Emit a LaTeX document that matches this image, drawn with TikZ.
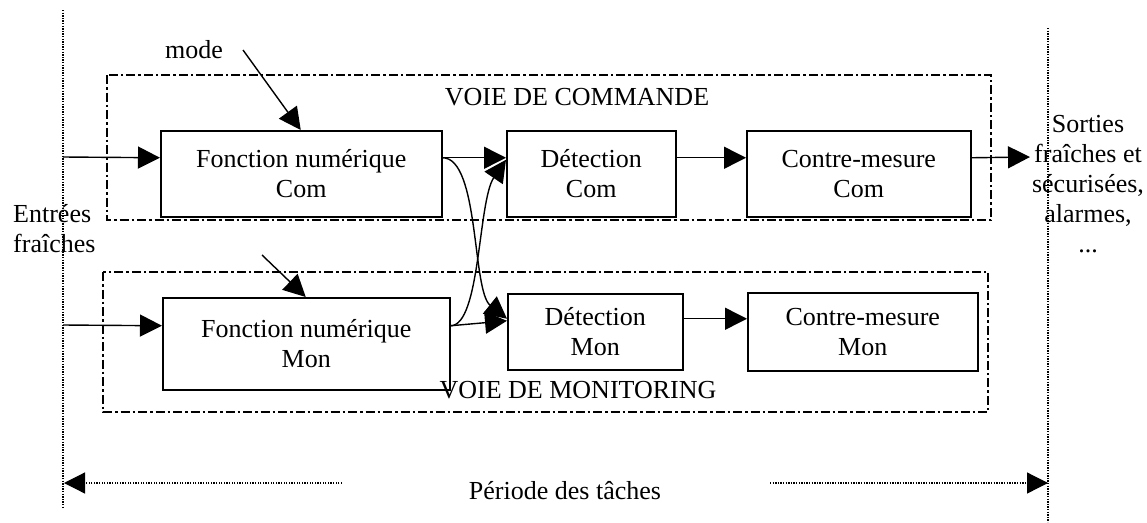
\documentclass[tikz,border=0pt]{standalone}
\usepackage{fontspec}
\setmainfont{Liberation Serif}
\usetikzlibrary{arrows.meta}
\begin{document}
\begin{tikzpicture}[x=1pt,y=-1pt,
  every node/.style={font=\fontsize{26}{30}\selectfont, inner sep=0pt, align=center},
  blk/.style={draw, line width=1.5pt, anchor=north west},
  arr/.style={line width=1.4pt, -{Triangle[length=22pt,width=22pt]}},
  voie/.style={draw, line width=1.5pt, dash pattern=on 9pt off 3pt on 2.5pt off 3pt},
  vline/.style={line width=1.2pt, dash pattern=on 1.3pt off 1.3pt},
  per/.style={line width=1.2pt, dash pattern=on 1.3pt off 1.3pt, -{Triangle[length=21pt,width=21pt]}}]
\useasboundingbox (0,0) rectangle (1147,522);

% time limits
\coordinate (vlT) at (63,10);
\coordinate (vlB) at (63,507);
\coordinate (vrT) at (1048,28);
\coordinate (vrB) at (1048,522);
\draw[vline] (vlT) -- (vlB);
\draw[vline] (vrT) -- (vrB);

% channels
\coordinate (cA) at (107,75);
\coordinate (cB) at (991,220);
\coordinate (mA) at (103,272);
\coordinate (mB) at (988,412);
\draw[voie] (cA) rectangle (cB);
\draw[voie] (mA) rectangle (mB);
\node (vc) at (577,97) {VOIE DE COMMANDE};
\node (vm) at (578,390) {VOIE DE MONITORING};

% blocks
\node[blk, minimum width=281pt, minimum height=86pt] (fc) at (160,130) {Fonction numérique\\Com};
\node[blk, minimum width=169pt, minimum height=86pt] (dc) at (506,130) {Détection\\Com};
\node[blk, minimum width=224pt, minimum height=86pt] (cc) at (746,130) {Contre-mesure\\Com};
\node[blk, minimum width=287pt, minimum height=92pt] (fm) at (162,297) {Fonction numérique\\Mon};
\node[blk, minimum width=175pt, minimum height=76pt] (dm) at (507,293) {Détection\\Mon};
\node[blk, minimum width=230pt, minimum height=78pt] (cm) at (747,292) {Contre-mesure\\Mon};

% texts
\node (mode) at (194,50) {mode};
\node[anchor=west, align=left] (in) at (13,229) {Entrées\\fraîches};
\node (out) at (1088,184) {Sorties\\fraîches et\\sécurisées,\\alarmes,\\...};
\node (per) at (565,491) {Période des tâches};

% inputs
\coordinate (inC) at (63,157);
\coordinate (inM) at (63,325);
\coordinate (modeS) at (243,50);
\coordinate (modeM) at (262,255);
\draw[arr] (inC) -- ([yshift=16pt]fc.west);
\draw[arr] (inM) -- ([yshift=18pt]fm.west);
\draw[arr] (modeS) -- ([xshift=-0.5pt]fc.north);
\draw[arr] (modeM) -- ([xshift=-0.5pt]fm.north);

% chain com
\draw[arr] ([yshift=16pt]fc.east) -- ([yshift=16pt]dc.west);
\draw[arr] ([yshift=16pt]dc.east) -- ([yshift=16pt]cc.west);
\coordinate (outT) at (1030,157);
\draw[arr] ([yshift=16pt]cc.east) -- (outT);

% chain mon
\draw[arr] ([yshift=18pt]fm.east) -- ([yshift=11pt]dm.west);
\draw[arr] ([yshift=13pt]dm.east) -- ([yshift=13pt]cm.west);

% crossings
\draw[arr] ([yshift=16pt]fc.east) .. controls +(37,0) and +(-35,-28) .. ([yshift=13pt]dm.west);
\draw[arr] ([yshift=18pt]fm.east) .. controls +(30,0) and +(-28,41) .. ([yshift=14pt]dc.west);

% period
\coordinate (pL) at (64,483);
\coordinate (pL2) at (342,483);
\coordinate (pR) at (1048,483);
\coordinate (pR2) at (770,483);
\draw[per] (pL2) -- (pL);
\draw[per] (pR2) -- (pR);
\end{tikzpicture}
\end{document}
